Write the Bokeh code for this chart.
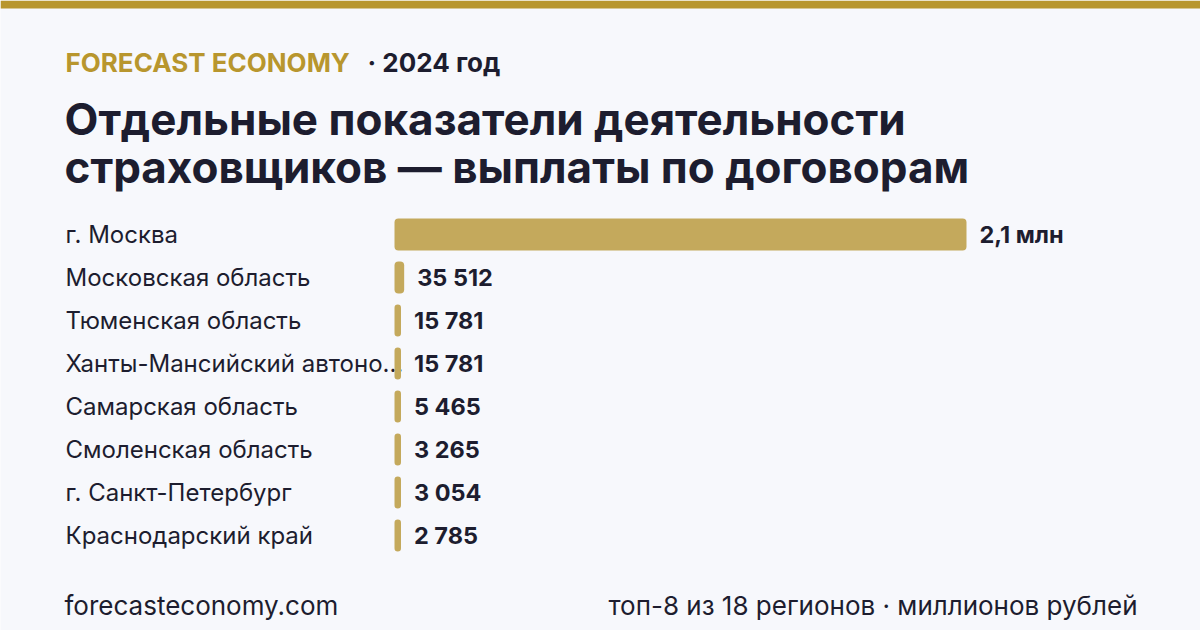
import numpy as np
from bokeh.plotting import figure
from bokeh.models import Range1d, ColumnDataSource
from bokeh.core.properties import value
from bokeh.embed import file_html
from bokeh.resources import INLINE

# ---- data ----
regions = [
    "г. Москва",
    "Московская область",
    "Тюменская область",
    "Ханты-Мансийский автоно...",
    "Самарская область",
    "Смоленская область",
    "г. Санкт-Петербург",
    "Краснодарский край",
]
payouts = [2_100_000, 35_512, 15_781, 15_781, 5_465, 3_265, 3_054, 2_785]  # млн руб.
brand = "FORECAST ECONOMY"
period = "· 2024 год"
title_lines = ["Отдельные показатели деятельности", "страховщиков — выплаты по договорам"]
footer_left = "forecasteconomy.com"
footer_right = "топ-8 из 18 регионов · миллионов рублей"

# ---- layout helpers (pixel -> data) ----
W, H = 1200, 630
BAR_X0 = 394          # px where value 0 sits
BAR_MAX_PX = 572      # px length of the largest bar
ROW0 = 234            # px centre of first row
ROW_H = 43            # px per row
k = max(payouts) / BAR_MAX_PX   # value per px

def X(px):
    return (px - BAR_X0) * k

def Y(px):
    return (px - ROW0) / ROW_H

FONT = value("Inter")
DARK = "#1d1d2f"
GOLD = "#b8962e"
BAR = "#c4a95c"
BG = "#f7f8fc"

p = figure(width=W, height=H, output_backend="svg", toolbar_location=None,
           x_range=Range1d(X(0), X(W)), y_range=Range1d(Y(H), Y(0)),
           min_border=0, min_border_left=0, min_border_right=0,
           min_border_top=0, min_border_bottom=0)
p.axis.visible = False
p.grid.visible = False
p.outline_line_color = None
p.background_fill_color = BG
p.border_fill_color = BG

# top strip
p.quad(left=[X(0)], right=[X(W)], top=[Y(0)], bottom=[Y(8)], fill_color=GOLD, line_color=None)

# header
p.text(x=[X(65)], y=[Y(62)], text=[brand], text_font=FONT, text_font_style="bold",
       text_font_size="26px", text_color=GOLD, text_baseline="middle")
p.text(x=[X(367)], y=[Y(62)], text=[period], text_font=FONT, text_font_style="bold",
       text_font_size="26px", text_color=DARK, text_baseline="middle")

# title
for i, line in enumerate(title_lines):
    p.text(x=[X(64)], y=[Y(118 + 48 * i)], text=[line], text_font=FONT, text_font_style="bold",
           text_font_size="44px", text_color=DARK, text_baseline="middle")

# rows
idx = np.arange(len(regions))
vals = np.array(payouts, dtype=float)
disp = np.maximum(vals, 6.5 * k)
labels = []
for v in payouts:
    if v >= 1_000_000:
        labels.append(f"{v/1_000_000:.1f}".replace(".", ",") + " млн")
    else:
        labels.append(f"{v:,}".replace(",", " "))
src = ColumnDataSource(dict(y=idx, region=regions, val=vals, disp=disp,
                            lab=labels, lx=disp + 13 * k))

p.text(x=X(65), y="y", text="region", source=src, text_font=FONT, text_font_size="24px",
       text_color=DARK, text_baseline="middle")
p.hbar(y="y", left=0, right="disp", height=0.74, source=src, fill_color=BAR,
       line_color=None, border_radius=4)
p.text(x="lx", y="y", text="lab", source=src, text_font=FONT, text_font_style="bold",
       text_font_size="23.5px", text_color=DARK, text_baseline="middle")

# footer
p.text(x=[X(64)], y=[Y(605)], text=[footer_left], text_font=FONT, text_font_size="26px",
       text_color=DARK, text_baseline="middle")
p.text(x=[X(1137)], y=[Y(605)], text=[footer_right], text_font=FONT, text_font_size="26px",
       text_color=DARK, text_baseline="middle", text_align="right")

open("out.html", "w").write(file_html(p, INLINE))
